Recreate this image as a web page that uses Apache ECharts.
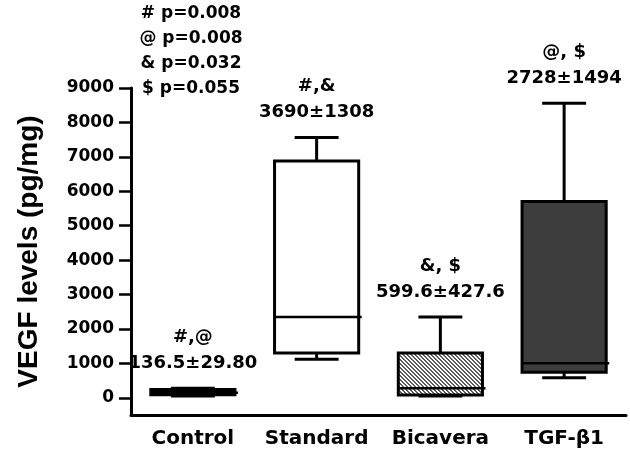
<!DOCTYPE html>
<html>
<head>
<meta charset="utf-8">
<script src="https://cdn.jsdelivr.net/npm/echarts@6/dist/echarts.min.js"></script>
<style>
    html, body { margin: 0; padding: 0; background: #fff; }
    #main { width: 630px; height: 456px; }
</style>
</head>
<body>
<div id="main"></div>
<script type="text/javascript">
    // 数据
    var categories = ['Control', 'Standard', 'Bicavera', 'TGF-β1'];
    var boxMin    = [50,   1120, 50,   580];
    var boxQ1     = [90,   1300, 80,   740];
    var boxMedian = [150,  2350, 280,  1000];
    var boxQ3     = [240,  6880, 1300, 5700];
    var boxMax    = [280,  7560, 2350, 8560];
    var meanText  = ['136.5±29.80', '3690±1308', '599.6±427.6', '2728±1494'];
    var markText  = ['#,@', '#,&', '&, $', '@, $'];
    var pValueLines = ['# p=0.008', '@ p=0.008', '& p=0.032', '$ p=0.055'];
    var yTickValues = [0, 1000, 2000, 3000, 4000, 5000, 6000, 7000, 8000, 9000];

    var FONT = 'DejaVu Sans';

    // 斜线填充
    var hatch = document.createElement('canvas');
    hatch.width = 4;
    hatch.height = 4;
    var hctx = hatch.getContext('2d');
    hctx.fillStyle = '#ffffff';
    hctx.fillRect(0, 0, 4, 4);
    hctx.fillStyle = '#5c5c5c';
    for (var i = 0; i < 4; i++) {
        hctx.fillRect(i, i, 1, 1);
        hctx.fillRect((i + 1) % 4, i, 1, 1);
    }

    function boxFill(idx) {
        if (idx === 0) return '#000000';
        if (idx === 1) return '#ffffff';
        if (idx === 2) return { image: hatch, repeat: 'repeat' };
        return '#3d3d3d';
    }

    var seriesData = categories.map(function (c, k) {
        return [k, boxMin[k], boxQ1[k], boxMedian[k], boxQ3[k], boxMax[k]];
    });

    function renderItem(params, api) {
        var idx = api.value(0);
        var band = api.size([1, 0])[0];
        var boxW = band * 0.68;
        var capW = band * 0.355;
        var pMin = api.coord([idx, api.value(1)]);
        var pQ1 = api.coord([idx, api.value(2)]);
        var pMed = api.coord([idx, api.value(3)]);
        var pQ3 = api.coord([idx, api.value(4)]);
        var pMax = api.coord([idx, api.value(5)]);
        var cx = pMin[0];
        var line = { stroke: '#000', lineWidth: 3 };
        return {
            type: 'group',
            children: [
                { type: 'line', shape: { x1: cx, y1: pMax[1], x2: cx, y2: pMin[1] }, style: line },
                { type: 'line', shape: { x1: cx - capW / 2, y1: pMax[1], x2: cx + capW / 2, y2: pMax[1] }, style: line },
                { type: 'line', shape: { x1: cx - capW / 2, y1: pMin[1], x2: cx + capW / 2, y2: pMin[1] }, style: line },
                { type: 'rect', shape: { x: cx - boxW / 2, y: pQ3[1], width: boxW, height: pQ1[1] - pQ3[1] },
                  style: { fill: boxFill(idx), stroke: '#000', lineWidth: 3 } },
                { type: 'line', shape: { x1: cx - boxW / 2, y1: pMed[1], x2: cx + boxW / 2 + 3, y2: pMed[1] },
                  style: { stroke: '#000', lineWidth: 2.5 } },
                { type: 'text', x: cx, y: pMax[1] - 25,
                  style: { text: meanText[idx], fill: '#000', font: 'bold 18px ' + FONT, align: 'center', verticalAlign: 'middle' } },
                { type: 'text', x: cx, y: pMax[1] - 51,
                  style: { text: markText[idx], fill: '#000', font: 'bold 18px ' + FONT, align: 'center', verticalAlign: 'middle' } }
            ]
        };
    }

    var myChart = echarts.init(document.getElementById('main'));
    var option = {
        animation: false,
        grid: { left: 131, right: 4, top: 88, bottom: 41 },
        xAxis: {
            type: 'category',
            data: categories,
            boundaryGap: true,
            axisLine: { onZero: false, lineStyle: { color: '#000', width: 3 } },
            axisTick: { length: 9, lineStyle: { color: '#000', width: 2.5 }, alignWithLabel: true },
            axisLabel: { interval: 0, color: '#000', fontFamily: FONT, fontWeight: 'bold', fontSize: 20, margin: 14 },
            splitLine: { show: false }
        },
        yAxis: {
            type: 'value',
            min: -500,
            max: 9000,
            name: 'VEGF levels (pg/mg)',
            nameLocation: 'middle',
            nameRotate: 90,
            nameGap: 88,
            nameTextStyle: { color: '#000', fontFamily: 'Liberation Sans', fontWeight: 'bold', fontSize: 28 },
            axisLine: { show: true, lineStyle: { color: '#000', width: 3 } },
            axisTick: { show: true, length: 12, customValues: yTickValues, lineStyle: { color: '#000', width: 2.5 } },
            axisLabel: {
                customValues: yTickValues,
                formatter: function (v) { return String(v); },
                color: '#000', fontFamily: FONT, fontWeight: 'bold', fontSize: 17, margin: 17
            },
            splitLine: { show: false }
        },
        graphic: pValueLines.map(function (t, k) {
            return {
                type: 'text',
                x: 191,
                y: 14 + k * 25,
                style: { text: t, fill: '#000', font: 'bold 17px ' + FONT, align: 'center', verticalAlign: 'middle' }
            };
        }),
        series: [{
            type: 'custom',
            renderItem: renderItem,
            encode: { x: 0, y: [1, 2, 3, 4, 5] },
            data: seriesData
        }]
    };
    myChart.setOption(option);
</script>
</body>
</html>
